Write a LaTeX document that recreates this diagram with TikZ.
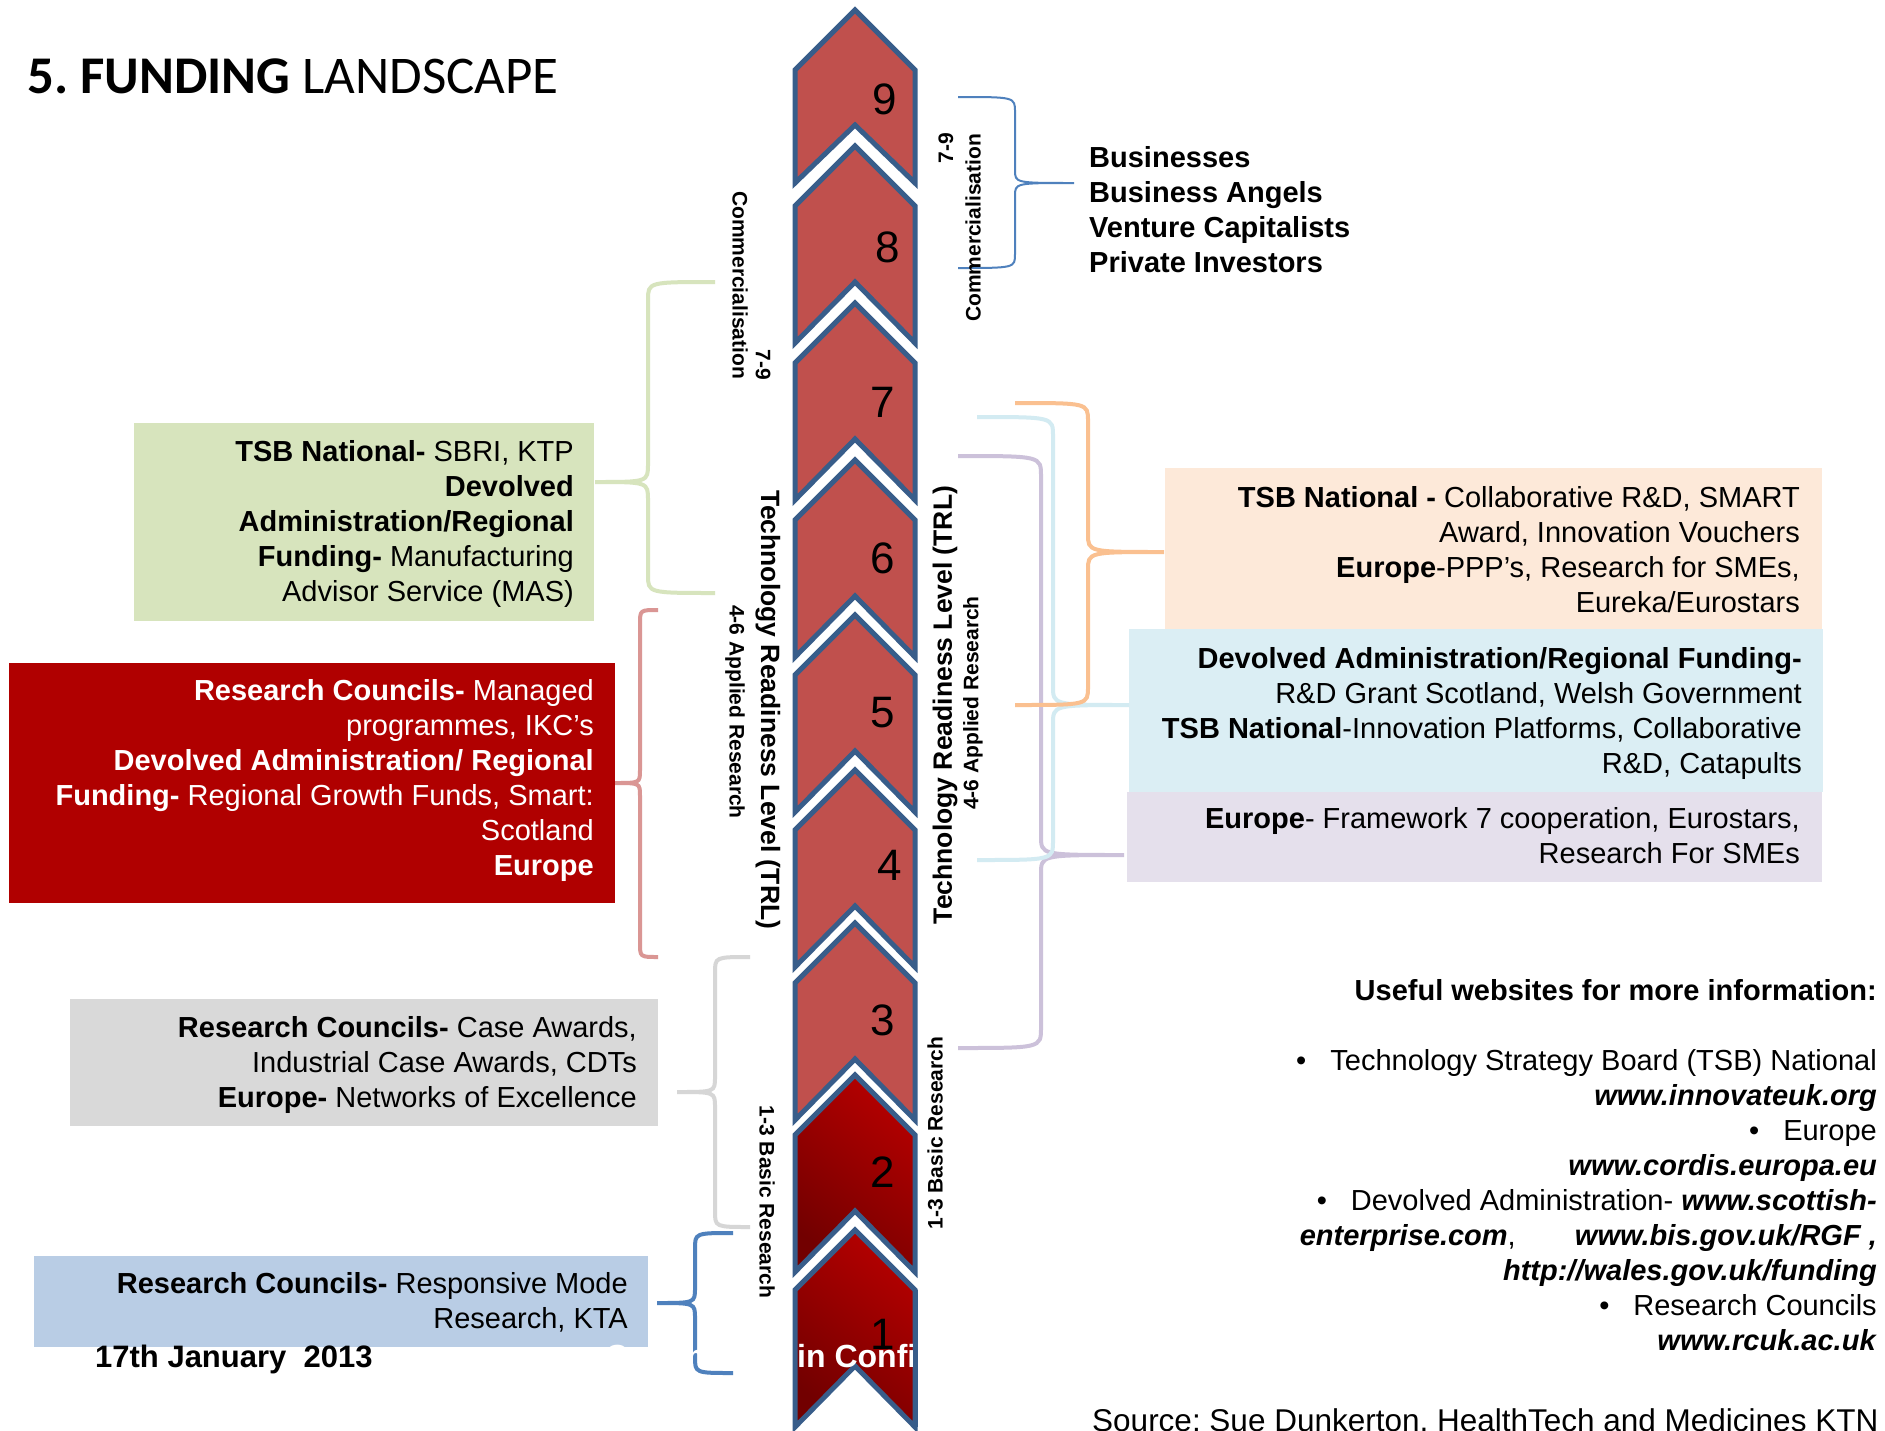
\documentclass[tikz,border=0pt]{standalone}
\usepackage{fontspec}
\setmainfont{Liberation Sans}
\newfontfamily\titlefont{Carlito}
\frenchspacing
\definecolor{chevred}{HTML}{C0504D}
\definecolor{chevline}{HTML}{385D8A}
\definecolor{darkA}{HTML}{720000}
\definecolor{darkB}{HTML}{B40000}
\definecolor{boxgreen}{HTML}{D7E4BD}
\definecolor{boxred}{HTML}{B00000}
\definecolor{boxgrey}{HTML}{D9D9D9}
\definecolor{boxblue}{HTML}{B9CDE5}
\definecolor{boxorange}{HTML}{FDE9D9}
\definecolor{boxlblue}{HTML}{DBEEF4}
\definecolor{boxpurple}{HTML}{E5E0EC}
\definecolor{brgreen}{HTML}{D7E4BD}
\definecolor{brpink}{HTML}{DA9694}
\definecolor{brgrey}{HTML}{D6D6D6}
\definecolor{brblue}{HTML}{4F81BD}
\definecolor{brorange}{HTML}{FAC090}
\definecolor{brlblue}{HTML}{D3EBF2}
\definecolor{brpurple}{HTML}{CCC1DA}
\tikzset{
  chevstyle/.style={draw=chevline, line width=5pt, line join=miter},
  bracestyle/.style={line width=4pt},
  boxnode/.style={anchor=north west, inner sep=0, outer sep=0},
  boxtext/.style={anchor=north east, inner sep=0, align=right, font=\fontsize{29}{35}\selectfont},
  lbl/.style={inner sep=0, font=\bfseries\fontsize{21}{25}\selectfont},
  trl/.style={inner sep=0, font=\bfseries\fontsize{26.5}{30}\selectfont},
  numtxt/.style={inner sep=0, font=\fontsize{44}{50}\selectfont}
}
\begin{document}
\begin{tikzpicture}[x=1pt,y=-1pt]
\useasboundingbox (0,0) rectangle (1885,1430);
\fill[white] (0,0) rectangle (1885,1430);

% title
\node[anchor=base west, inner sep=0, font=\titlefont\fontsize{53}{60}\selectfont] (title) at (27,93) {\textbf{5. FUNDING} LANDSCAPE};

% boxes
\node[boxnode, fill=boxgreen, minimum width=460pt, minimum height=198pt] (gbox) at (134,423) {};
\node[boxnode, fill=boxred, minimum width=606pt, minimum height=240pt] (rbox) at (9,663) {};
\node[boxnode, fill=boxgrey, minimum width=588pt, minimum height=127pt] (ybox) at (70,999) {};
\node[boxnode, fill=boxblue, minimum width=614pt, minimum height=91pt] (bbox) at (34,1256) {};
\node[boxnode, fill=boxorange, minimum width=657pt, minimum height=161pt] (obox) at (1165,468) {};
\node[boxnode, fill=boxlblue, minimum width=694pt, minimum height=163pt] (lbox) at (1129,629) {};
\node[boxnode, fill=boxpurple, minimum width=695pt, minimum height=90pt] (pbox) at (1127,792) {};

% braces (left side, tip pointing left)
\draw[bracestyle, brgreen] (715,282) .. controls (648,282) .. (648,300) -- (648,464) .. controls (648,482) .. (595,482) .. controls (648,482) .. (648,500) -- (648,575) .. controls (648,593) .. (715,593);
\draw[bracestyle, brpink] (658,610) .. controls (640,610) .. (640,624) -- (640,770) .. controls (640,783) .. (615,783) .. controls (640,783) .. (640,796) -- (640,943) .. controls (640,957) .. (658,957);
\draw[bracestyle, brgrey] (750,957) .. controls (715,957) .. (715,973) -- (715,1077) .. controls (715,1092) .. (677,1092) .. controls (715,1092) .. (715,1107) -- (715,1211) .. controls (715,1227) .. (750,1227);
\draw[bracestyle, brblue] (733,1233) .. controls (695,1233) .. (695,1249) -- (695,1288) .. controls (695,1303) .. (657,1303) .. controls (695,1303) .. (695,1318) -- (695,1357) .. controls (695,1373) .. (733,1373);

% braces (right side, tip pointing right)
\draw[line width=2pt, brblue] (958,97) .. controls (1015,97) .. (1015,112) -- (1015,170) .. controls (1015,183) .. (1074,183) .. controls (1015,183) .. (1015,196) -- (1015,254) .. controls (1015,268) .. (958,268);
\draw[bracestyle, brpurple] (958,456) .. controls (1041,456) .. (1041,476) -- (1041,836) .. controls (1041,855) .. (1124,855) .. controls (1041,855) .. (1041,874) -- (1041,1028) .. controls (1041,1048) .. (958,1048);
\draw[bracestyle, brlblue] (977,417) .. controls (1053,417) .. (1053,436) -- (1053,686) .. controls (1053,705) .. (1129,705) .. controls (1053,705) .. (1053,724) -- (1053,841) .. controls (1053,860) .. (977,860);
\draw[bracestyle, brorange] (1015,403) .. controls (1088,403) .. (1088,421) -- (1088,534) .. controls (1088,552) .. (1164,552) .. controls (1088,552) .. (1088,570) -- (1088,687) .. controls (1088,705) .. (1015,705);

% chevrons
\draw[chevstyle, fill=chevred] (855,10) -- (915,70) -- (915,183) -- (855,125) -- (795,183) -- (795,70) -- cycle;
\foreach \t in {146,303,460,615,770,923}{
  \draw[chevstyle, fill=chevred] (855,\t) -- (915,\t+60) -- (915,\t+197) -- (855,\t+136) -- (795,\t+197) -- (795,\t+60) -- cycle;
}
\foreach \t in {1075,1230}{
  \draw[chevstyle, top color=darkB, bottom color=darkA, shading angle=-40] (855,\t) -- (915,\t+60) -- (915,\t+197) -- (855,\t+136) -- (795,\t+197) -- (795,\t+60) -- cycle;
}

% chevron numbers
\node[numtxt] (n9) at (885,99) {9};
\node[numtxt] (n8) at (888,247) {8};
\node[numtxt] (n7) at (883,402) {7};
\node[numtxt] (n6) at (883,558) {6};
\node[numtxt] (n5) at (883,713) {5};
\node[numtxt] (n4) at (890,865) {4};
\node[numtxt] (n3) at (883,1020) {3};
\node[numtxt] (n2) at (883,1172) {2};
\node[numtxt] (n1) at (883,1334) {1};

% rotated labels, left side
\node[lbl, rotate=-90] (lcomm) at (740,285) {Commercialisation};
\node[lbl, rotate=-90] (l79) at (763,365) {7-9};
\node[trl, rotate=-90] (ltrl) at (768,710) {Technology Readiness Level (TRL)};
\node[lbl, rotate=-90] (l46) at (735,712) {4-6 Applied Research};
\node[lbl, rotate=-90] (l13) at (767,1202) {1-3 Basic Research};

% rotated labels, right side
\node[lbl, rotate=90] (r79) at (946,148) {7-9};
\node[lbl, rotate=90] (rcomm) at (973,228) {Commercialisation};
\node[trl, rotate=90] (rtrl) at (945,705) {Technology Readiness Level (TRL)};
\node[lbl, rotate=90] (r46) at (973,703) {4-6 Applied Research};
\node[lbl, rotate=90] (r13) at (935,1133) {1-3 Basic Research};

% top right list
\node[anchor=north west, inner sep=0, align=left, font=\bfseries\fontsize{29}{35}\selectfont] (investors) at (1089,142.5) {\strut Businesses\\Business Angels\\Venture Capitalists\\Private Investors};

% box texts
\node[boxtext] (gtext) at (574,436.5) {\strut\textbf{TSB National-} SBRI, KTP\\\textbf{Devolved}\\\textbf{Administration/Regional}\\\textbf{Funding-} Manufacturing\\Advisor Service (MAS)};
\node[boxtext, text=white] (rtext) at (594,675.5) {\strut\textbf{Research Councils-} Managed\\programmes, IKC’s\\\textbf{Devolved Administration/ Regional}\\\textbf{Funding-} Regional Growth Funds, Smart:\\Scotland\\\textbf{Europe}};
\node[boxtext] (ytext) at (637,1012.5) {\strut\textbf{Research Councils-} Case Awards,\\Industrial Case Awards, CDTs\\\textbf{Europe-} Networks of Excellence};
\node[boxtext] (btext) at (628,1268.5) {\strut\textbf{Research Councils-} Responsive Mode\\Research, KTA};
\node[boxtext] (otext) at (1800,482.5) {\strut\textbf{TSB National -} Collaborative R\&D, SMART\\Award, Innovation Vouchers\\\textbf{Europe}-PPP’s, Research for SMEs,\\Eureka/Eurostars};
\node[boxtext] (ltext) at (1802,643.5) {\strut\textbf{Devolved Administration/Regional Funding-}\\R\&D Grant Scotland, Welsh Government\\\textbf{TSB National}-Innovation Platforms, Collaborative\\R\&D, Catapults};
\node[boxtext] (ptext) at (1800,803.5) {\strut\textbf{Europe}- Framework 7 cooperation, Eurostars,\\Research For SMEs};

% websites
\node[boxtext] (web) at (1877,975.5) {\strut\textbf{Useful websites for more information:}\\\strut\\
•\hspace{24pt}Technology Strategy Board (TSB) National\\
\textbf{\textit{www.innovateuk.org}}\\
•\hspace{24pt}Europe\\
\textbf{\textit{www.cordis.europa.eu}}\\
•\hspace{24pt}Devolved Administration- \textbf{\textit{www.scottish-}}\\
\hbox to 577pt{\textbf{\textit{enterprise.com}},\hfill\textbf{\textit{www.bis.gov.uk/RGF ,}}}\\
\textbf{\textit{http://wales.gov.uk/funding}}\\
•\hspace{24pt}Research Councils\\
\textbf{\textit{www.rcuk.ac.uk}}};
\node[anchor=base west, inner sep=0, font=\fontsize{31.5}{36}\selectfont] (source) at (1092,1431) {Source: Sue Dunkerton, HealthTech and Medicines KTN};

% footer
\node[anchor=base west, inner sep=0, font=\bfseries\fontsize{31}{36}\selectfont] (date) at (95,1367) {17th January\ \ 2013};
\node[anchor=base west, inner sep=0, font=\bfseries\fontsize{32}{36}\selectfont, text=white] (conf) at (605,1367) {Commercial in Confidence};
% right edge of chevron 1 over the footer text
\draw[chevstyle] (915,1290) -- (915,1427);
\end{tikzpicture}
\end{document}
